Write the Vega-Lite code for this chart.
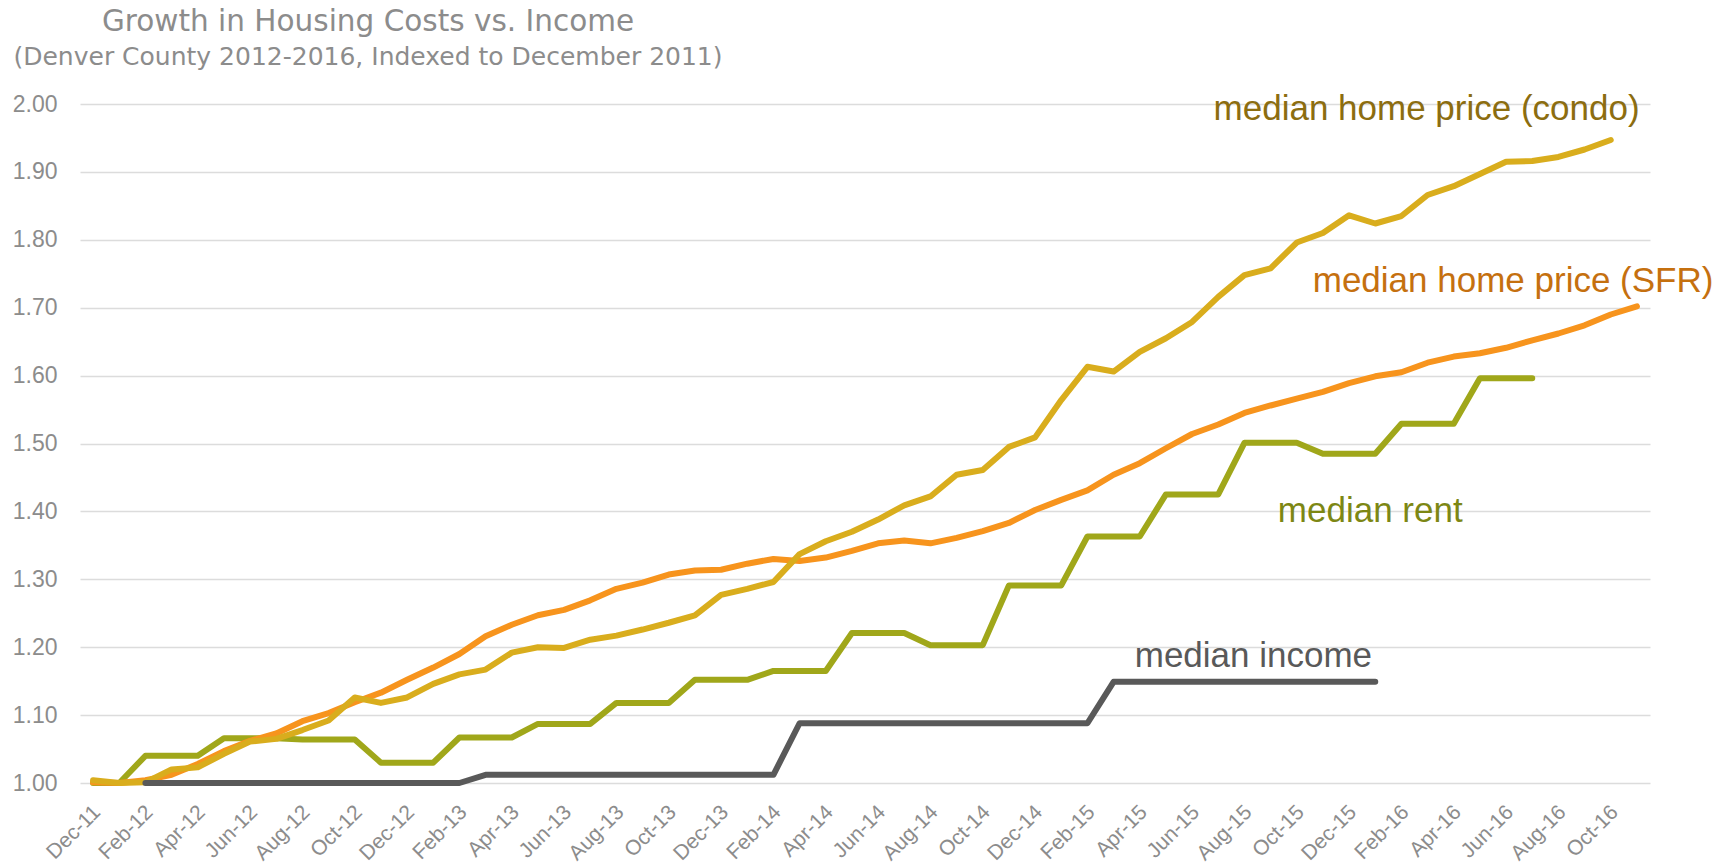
{
  "$schema": "https://vega.github.io/schema/vega-lite/v6.json",
  "width": 1570,
  "height": 679,
  "autosize": {"type": "none"},
  "padding": {"left": 80, "top": 104, "right": 81, "bottom": 82},
  "background": "white",
  "title": {
    "text": "Growth in Housing Costs vs. Income",
    "subtitle": "(Denver County 2012-2016, Indexed to December 2011)",
    "anchor": "start",
    "align": "center",
    "dx": 288,
    "frame": "group",
    "font": "DejaVu Sans",
    "fontSize": 29.5,
    "fontWeight": "normal",
    "color": "#8c8c8c",
    "subtitleFont": "DejaVu Sans",
    "subtitleFontSize": 25,
    "subtitleColor": "#8c8c8c",
    "subtitlePadding": 8,
    "offset": 21
  },
  "config": {"view": {"stroke": null}},
  "datasets": {
    "series": [
      {"m":"Dec-11","s":"rent","v":1.000},{"m":"Jan-12","s":"rent","v":1.000},{"m":"Feb-12","s":"rent","v":1.040},{"m":"Mar-12","s":"rent","v":1.040},{"m":"Apr-12","s":"rent","v":1.040},{"m":"May-12","s":"rent","v":1.066},{"m":"Jun-12","s":"rent","v":1.066},{"m":"Jul-12","s":"rent","v":1.066},{"m":"Aug-12","s":"rent","v":1.064},{"m":"Sep-12","s":"rent","v":1.064},{"m":"Oct-12","s":"rent","v":1.064},{"m":"Nov-12","s":"rent","v":1.030},{"m":"Dec-12","s":"rent","v":1.030},{"m":"Jan-13","s":"rent","v":1.030},{"m":"Feb-13","s":"rent","v":1.067},{"m":"Mar-13","s":"rent","v":1.067},{"m":"Apr-13","s":"rent","v":1.067},{"m":"May-13","s":"rent","v":1.087},{"m":"Jun-13","s":"rent","v":1.087},{"m":"Jul-13","s":"rent","v":1.087},{"m":"Aug-13","s":"rent","v":1.118},{"m":"Sep-13","s":"rent","v":1.118},{"m":"Oct-13","s":"rent","v":1.118},{"m":"Nov-13","s":"rent","v":1.152},{"m":"Dec-13","s":"rent","v":1.152},{"m":"Jan-14","s":"rent","v":1.152},{"m":"Feb-14","s":"rent","v":1.165},{"m":"Mar-14","s":"rent","v":1.165},{"m":"Apr-14","s":"rent","v":1.165},{"m":"May-14","s":"rent","v":1.221},{"m":"Jun-14","s":"rent","v":1.221},{"m":"Jul-14","s":"rent","v":1.221},{"m":"Aug-14","s":"rent","v":1.203},{"m":"Sep-14","s":"rent","v":1.203},{"m":"Oct-14","s":"rent","v":1.203},{"m":"Nov-14","s":"rent","v":1.291},{"m":"Dec-14","s":"rent","v":1.291},{"m":"Jan-15","s":"rent","v":1.291},{"m":"Feb-15","s":"rent","v":1.363},{"m":"Mar-15","s":"rent","v":1.363},{"m":"Apr-15","s":"rent","v":1.363},{"m":"May-15","s":"rent","v":1.425},{"m":"Jun-15","s":"rent","v":1.425},{"m":"Jul-15","s":"rent","v":1.425},{"m":"Aug-15","s":"rent","v":1.501},{"m":"Sep-15","s":"rent","v":1.501},{"m":"Oct-15","s":"rent","v":1.501},{"m":"Nov-15","s":"rent","v":1.485},{"m":"Dec-15","s":"rent","v":1.485},{"m":"Jan-16","s":"rent","v":1.485},{"m":"Feb-16","s":"rent","v":1.529},{"m":"Mar-16","s":"rent","v":1.529},{"m":"Apr-16","s":"rent","v":1.529},{"m":"May-16","s":"rent","v":1.596},{"m":"Jun-16","s":"rent","v":1.596},{"m":"Jul-16","s":"rent","v":1.596},
      {"m":"Dec-11","s":"sfr","v":1.001},{"m":"Jan-12","s":"sfr","v":1.000},{"m":"Feb-12","s":"sfr","v":1.004},{"m":"Mar-12","s":"sfr","v":1.012},{"m":"Apr-12","s":"sfr","v":1.028},{"m":"May-12","s":"sfr","v":1.047},{"m":"Jun-12","s":"sfr","v":1.062},{"m":"Jul-12","s":"sfr","v":1.073},{"m":"Aug-12","s":"sfr","v":1.091},{"m":"Sep-12","s":"sfr","v":1.103},{"m":"Oct-12","s":"sfr","v":1.119},{"m":"Nov-12","s":"sfr","v":1.133},{"m":"Dec-12","s":"sfr","v":1.152},{"m":"Jan-13","s":"sfr","v":1.170},{"m":"Feb-13","s":"sfr","v":1.190},{"m":"Mar-13","s":"sfr","v":1.216},{"m":"Apr-13","s":"sfr","v":1.233},{"m":"May-13","s":"sfr","v":1.247},{"m":"Jun-13","s":"sfr","v":1.255},{"m":"Jul-13","s":"sfr","v":1.269},{"m":"Aug-13","s":"sfr","v":1.286},{"m":"Sep-13","s":"sfr","v":1.295},{"m":"Oct-13","s":"sfr","v":1.307},{"m":"Nov-13","s":"sfr","v":1.313},{"m":"Dec-13","s":"sfr","v":1.314},{"m":"Jan-14","s":"sfr","v":1.323},{"m":"Feb-14","s":"sfr","v":1.330},{"m":"Mar-14","s":"sfr","v":1.327},{"m":"Apr-14","s":"sfr","v":1.332},{"m":"May-14","s":"sfr","v":1.342},{"m":"Jun-14","s":"sfr","v":1.353},{"m":"Jul-14","s":"sfr","v":1.357},{"m":"Aug-14","s":"sfr","v":1.353},{"m":"Sep-14","s":"sfr","v":1.361},{"m":"Oct-14","s":"sfr","v":1.371},{"m":"Nov-14","s":"sfr","v":1.383},{"m":"Dec-14","s":"sfr","v":1.402},{"m":"Jan-15","s":"sfr","v":1.417},{"m":"Feb-15","s":"sfr","v":1.431},{"m":"Mar-15","s":"sfr","v":1.454},{"m":"Apr-15","s":"sfr","v":1.471},{"m":"May-15","s":"sfr","v":1.493},{"m":"Jun-15","s":"sfr","v":1.514},{"m":"Jul-15","s":"sfr","v":1.528},{"m":"Aug-15","s":"sfr","v":1.545},{"m":"Sep-15","s":"sfr","v":1.556},{"m":"Oct-15","s":"sfr","v":1.566},{"m":"Nov-15","s":"sfr","v":1.576},{"m":"Dec-15","s":"sfr","v":1.589},{"m":"Jan-16","s":"sfr","v":1.599},{"m":"Feb-16","s":"sfr","v":1.605},{"m":"Mar-16","s":"sfr","v":1.619},{"m":"Apr-16","s":"sfr","v":1.628},{"m":"May-16","s":"sfr","v":1.633},{"m":"Jun-16","s":"sfr","v":1.641},{"m":"Jul-16","s":"sfr","v":1.652},{"m":"Aug-16","s":"sfr","v":1.662},{"m":"Sep-16","s":"sfr","v":1.674},{"m":"Oct-16","s":"sfr","v":1.690},{"m":"Nov-16","s":"sfr","v":1.702},
      {"m":"Dec-11","s":"condo","v":1.004},{"m":"Jan-12","s":"condo","v":1.000},{"m":"Feb-12","s":"condo","v":1.001},{"m":"Mar-12","s":"condo","v":1.020},{"m":"Apr-12","s":"condo","v":1.023},{"m":"May-12","s":"condo","v":1.043},{"m":"Jun-12","s":"condo","v":1.061},{"m":"Jul-12","s":"condo","v":1.065},{"m":"Aug-12","s":"condo","v":1.078},{"m":"Sep-12","s":"condo","v":1.092},{"m":"Oct-12","s":"condo","v":1.126},{"m":"Nov-12","s":"condo","v":1.118},{"m":"Dec-12","s":"condo","v":1.126},{"m":"Jan-13","s":"condo","v":1.146},{"m":"Feb-13","s":"condo","v":1.160},{"m":"Mar-13","s":"condo","v":1.167},{"m":"Apr-13","s":"condo","v":1.192},{"m":"May-13","s":"condo","v":1.200},{"m":"Jun-13","s":"condo","v":1.199},{"m":"Jul-13","s":"condo","v":1.211},{"m":"Aug-13","s":"condo","v":1.217},{"m":"Sep-13","s":"condo","v":1.226},{"m":"Oct-13","s":"condo","v":1.236},{"m":"Nov-13","s":"condo","v":1.247},{"m":"Dec-13","s":"condo","v":1.277},{"m":"Jan-14","s":"condo","v":1.286},{"m":"Feb-14","s":"condo","v":1.296},{"m":"Mar-14","s":"condo","v":1.337},{"m":"Apr-14","s":"condo","v":1.356},{"m":"May-14","s":"condo","v":1.370},{"m":"Jun-14","s":"condo","v":1.388},{"m":"Jul-14","s":"condo","v":1.409},{"m":"Aug-14","s":"condo","v":1.422},{"m":"Sep-14","s":"condo","v":1.454},{"m":"Oct-14","s":"condo","v":1.461},{"m":"Nov-14","s":"condo","v":1.495},{"m":"Dec-14","s":"condo","v":1.509},{"m":"Jan-15","s":"condo","v":1.564},{"m":"Feb-15","s":"condo","v":1.613},{"m":"Mar-15","s":"condo","v":1.606},{"m":"Apr-15","s":"condo","v":1.635},{"m":"May-15","s":"condo","v":1.655},{"m":"Jun-15","s":"condo","v":1.679},{"m":"Jul-15","s":"condo","v":1.716},{"m":"Aug-15","s":"condo","v":1.748},{"m":"Sep-15","s":"condo","v":1.758},{"m":"Oct-15","s":"condo","v":1.796},{"m":"Nov-15","s":"condo","v":1.810},{"m":"Dec-15","s":"condo","v":1.836},{"m":"Jan-16","s":"condo","v":1.824},{"m":"Feb-16","s":"condo","v":1.835},{"m":"Mar-16","s":"condo","v":1.866},{"m":"Apr-16","s":"condo","v":1.879},{"m":"May-16","s":"condo","v":1.897},{"m":"Jun-16","s":"condo","v":1.915},{"m":"Jul-16","s":"condo","v":1.916},{"m":"Aug-16","s":"condo","v":1.922},{"m":"Sep-16","s":"condo","v":1.933},{"m":"Oct-16","s":"condo","v":1.947},
      {"m":"Feb-12","s":"income","v":1.000},{"m":"Mar-12","s":"income","v":1.000},{"m":"Apr-12","s":"income","v":1.000},{"m":"May-12","s":"income","v":1.000},{"m":"Jun-12","s":"income","v":1.000},{"m":"Jul-12","s":"income","v":1.000},{"m":"Aug-12","s":"income","v":1.000},{"m":"Sep-12","s":"income","v":1.000},{"m":"Oct-12","s":"income","v":1.000},{"m":"Nov-12","s":"income","v":1.000},{"m":"Dec-12","s":"income","v":1.000},{"m":"Jan-13","s":"income","v":1.000},{"m":"Feb-13","s":"income","v":1.000},{"m":"Mar-13","s":"income","v":1.012},{"m":"Apr-13","s":"income","v":1.012},{"m":"May-13","s":"income","v":1.012},{"m":"Jun-13","s":"income","v":1.012},{"m":"Jul-13","s":"income","v":1.012},{"m":"Aug-13","s":"income","v":1.012},{"m":"Sep-13","s":"income","v":1.012},{"m":"Oct-13","s":"income","v":1.012},{"m":"Nov-13","s":"income","v":1.012},{"m":"Dec-13","s":"income","v":1.012},{"m":"Jan-14","s":"income","v":1.012},{"m":"Feb-14","s":"income","v":1.012},{"m":"Mar-14","s":"income","v":1.088},{"m":"Apr-14","s":"income","v":1.088},{"m":"May-14","s":"income","v":1.088},{"m":"Jun-14","s":"income","v":1.088},{"m":"Jul-14","s":"income","v":1.088},{"m":"Aug-14","s":"income","v":1.088},{"m":"Sep-14","s":"income","v":1.088},{"m":"Oct-14","s":"income","v":1.088},{"m":"Nov-14","s":"income","v":1.088},{"m":"Dec-14","s":"income","v":1.088},{"m":"Jan-15","s":"income","v":1.088},{"m":"Feb-15","s":"income","v":1.088},{"m":"Mar-15","s":"income","v":1.149},{"m":"Apr-15","s":"income","v":1.149},{"m":"May-15","s":"income","v":1.149},{"m":"Jun-15","s":"income","v":1.149},{"m":"Jul-15","s":"income","v":1.149},{"m":"Aug-15","s":"income","v":1.149},{"m":"Sep-15","s":"income","v":1.149},{"m":"Oct-15","s":"income","v":1.149},{"m":"Nov-15","s":"income","v":1.149},{"m":"Dec-15","s":"income","v":1.149},{"m":"Jan-16","s":"income","v":1.149}
    ],
    "labels": [
      {"m":"Mar-16","s":"condo","v":1.976,"t":"median home price (condo)"},
      {"m":"Jun-16","s":"sfr","v":1.723,"t":"median home price (SFR)"},
      {"m":"Jan-16","s":"rent","v":1.3846,"t":"median rent"},
      {"m":"Aug-15","s":"income","v":1.171,"t":"median income"}
    ]
  },
  "encoding": {
    "x": {
      "field": "m",
      "type": "ordinal",
      "scale": {
        "type": "point",
        "padding": 0.5,
        "domain": ["Dec-11","Jan-12","Feb-12","Mar-12","Apr-12","May-12","Jun-12","Jul-12","Aug-12","Sep-12","Oct-12","Nov-12","Dec-12","Jan-13","Feb-13","Mar-13","Apr-13","May-13","Jun-13","Jul-13","Aug-13","Sep-13","Oct-13","Nov-13","Dec-13","Jan-14","Feb-14","Mar-14","Apr-14","May-14","Jun-14","Jul-14","Aug-14","Sep-14","Oct-14","Nov-14","Dec-14","Jan-15","Feb-15","Mar-15","Apr-15","May-15","Jun-15","Jul-15","Aug-15","Sep-15","Oct-15","Nov-15","Dec-15","Jan-16","Feb-16","Mar-16","Apr-16","May-16","Jun-16","Jul-16","Aug-16","Sep-16","Oct-16","Nov-16"]
      },
      "axis": {
        "title": null,
        "values": ["Dec-11","Feb-12","Apr-12","Jun-12","Aug-12","Oct-12","Dec-12","Feb-13","Apr-13","Jun-13","Aug-13","Oct-13","Dec-13","Feb-14","Apr-14","Jun-14","Aug-14","Oct-14","Dec-14","Feb-15","Apr-15","Jun-15","Aug-15","Oct-15","Dec-15","Feb-16","Apr-16","Jun-16","Aug-16","Oct-16"],
        "labelAngle": -45,
        "labelFont": "Liberation Sans",
        "labelFontSize": 21,
        "labelColor": "#8c8c8c",
        "labelPadding": 18,
        "labelOffset": -4,
        "labelOverlap": false,
        "labelBound": false,
        "domain": false,
        "ticks": false,
        "grid": false
      }
    },
    "y": {
      "field": "v",
      "type": "quantitative",
      "scale": {"domain": [1, 2], "nice": false, "zero": false},
      "axis": {
        "title": null,
        "values": [1, 1.1, 1.2, 1.3, 1.4, 1.5, 1.6, 1.7, 1.8, 1.9, 2],
        "format": ".2f",
        "labelFont": "Liberation Sans",
        "labelFontSize": 23,
        "labelColor": "#8c8c8c",
        "labelPadding": 23,
        "domain": false,
        "ticks": false,
        "grid": true,
        "gridColor": "#dcdcdc",
        "gridWidth": 1.5
      }
    }
  },
  "layer": [
    {"data": {"name": "series"}, "transform": [{"filter": "datum.s === 'rent'"}], "mark": {"type": "line", "color": "#a0a71a", "strokeWidth": 6, "strokeCap": "round", "strokeJoin": "round"}},
    {"data": {"name": "series"}, "transform": [{"filter": "datum.s === 'sfr'"}], "mark": {"type": "line", "color": "#f7941d", "strokeWidth": 6, "strokeCap": "round", "strokeJoin": "round"}},
    {"data": {"name": "series"}, "transform": [{"filter": "datum.s === 'condo'"}], "mark": {"type": "line", "color": "#d9ad1d", "strokeWidth": 6, "strokeCap": "round", "strokeJoin": "round"}},
    {"data": {"name": "series"}, "transform": [{"filter": "datum.s === 'income'"}], "mark": {"type": "line", "color": "#595959", "strokeWidth": 6, "strokeCap": "round", "strokeJoin": "round"}},
    {"data": {"name": "labels"}, "transform": [{"filter": "datum.s === 'condo'"}], "mark": {"type": "text", "font": "Liberation Sans", "fontSize": 35, "align": "center", "baseline": "alphabetic", "color": "#8c6d10", "dx": -1}, "encoding": {"text": {"field": "t"}}},
    {"data": {"name": "labels"}, "transform": [{"filter": "datum.s === 'sfr'"}], "mark": {"type": "text", "font": "Liberation Sans", "fontSize": 35, "align": "center", "baseline": "alphabetic", "color": "#c5700f", "dx": 7}, "encoding": {"text": {"field": "t"}}},
    {"data": {"name": "labels"}, "transform": [{"filter": "datum.s === 'rent'"}], "mark": {"type": "text", "font": "Liberation Sans", "fontSize": 35, "align": "center", "baseline": "alphabetic", "color": "#7d8714", "dx": -5}, "encoding": {"text": {"field": "t"}}},
    {"data": {"name": "labels"}, "transform": [{"filter": "datum.s === 'income'"}], "mark": {"type": "text", "font": "Liberation Sans", "fontSize": 35, "align": "center", "baseline": "alphabetic", "color": "#595959", "dx": 9}, "encoding": {"text": {"field": "t"}}}
  ]
}
